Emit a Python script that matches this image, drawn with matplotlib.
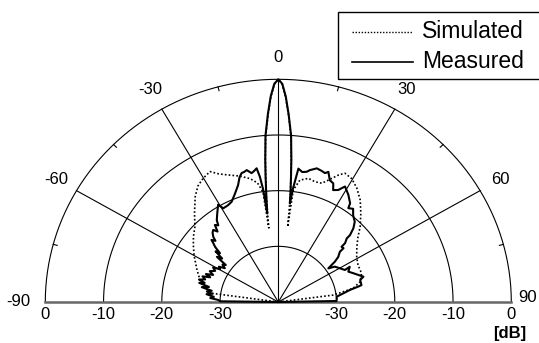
import numpy as np
import matplotlib
matplotlib.use("Agg")
import matplotlib.pyplot as plt
from matplotlib.patches import Rectangle
from matplotlib.lines import Line2D

plt.rcParams["font.family"] = ["Liberation Sans", "DejaVu Sans"]

# ---- data (angle in deg, 0 = broadside, level in dB) ----
sim_theta = [-90, -82.2, -77.5, -73.6, -67.6, -60, -55, -51.2, -46.6, -42, -37,
             -33.5, -30.1, -26.6, -24, -21.2, -16.5, -12.4, -9.5, -7.6, -7.0,
             -6.2, -5.5, -5.0, -4.2, -3.0, -2.0, -1.0, 0,
             1.0, 2.0, 3.0, 4.2, 5.0, 5.5, 6.2, 6.8, 7.3, 9.6, 13.1, 16.3, 19.3,
             21.4, 24.3, 26.3, 29.6, 33.4, 37.5, 41.7, 46.1, 50, 54.3, 59, 64.2,
             70.2, 75.5, 79.1, 80.6, 82.5, 90]
sim_db = [-40, -28.2, -26.9, -26.0, -24.9, -23.3, -22.2, -21.3, -20.3, -18.5, -16.3,
          -15.0, -14.3, -13.8, -14.8, -15.5, -16.4, -17.3, -18.3, -20.0, -26.6,
          -21.0, -17.4, -14.5, -10.2, -6.3, -3.2, -0.9, 0,
          -0.9, -3.3, -6.4, -10.2, -14.5, -17.4, -21.0, -26.4, -19.7, -17.8, -17.2, -17.5, -17.4,
          -16.5, -15.0, -14.2, -14.5, -15.5, -16.9, -18.7, -20.5, -22.2, -23.4, -24.3, -24.8,
          -24.8, -25.5, -26.9, -28.7, -30.5, -40]

meas_theta = [-90, -89.3, -88, -86.5, -85.2, -83.5, -82.5, -81.3, -80, -78.5, -77.2,
              -75.8, -74.8, -73.5, -72.1, -70.5, -69.2, -68, -66.5, -64.8, -62.7,
              -61, -59.5, -58.1, -56.5, -55, -53.6, -52.4, -51, -49.8, -48.8,
              -47.6, -46.5, -45.8, -44.5, -43.6, -42.2, -40.8, -39.5, -38.2, -36.8,
              -35.7, -33.5, -30.6, -29.3, -26.5, -24, -21, -18.2, -16.5, -15.2,
              -14, -12.9, -11.2, -10, -8.8, -8, -7.3, -6.8, -6.1, -5.5,
              -5.0, -4.2, -3.0, -2.0, -1.0, 0,
              1.0, 2.0, 3.0, 4.2, 5.0, 5.5, 6.0, 6.4, 7.0, 8.2,
              10, 11.8, 12.9, 15.4, 17.5, 19.1, 20.2, 22, 23.9, 25.1,
              27.1, 28.9, 32, 34.8, 35.5, 37.5, 39.5, 42.3, 44.2, 45.7,
              45.8, 47.3, 47.6, 49.2, 49.5, 51.8, 53.3, 54.4, 54.9, 56.8,
              60.3, 63.3, 62.7, 65.6, 68.2, 70.6, 72.7, 74.3, 78, 78.6,
              80, 82, 84.5, 89, 90]
meas_db = [-40, -30.0, -29.7, -28.3, -28.9, -27.6, -28.6, -27.6, -28.4, -26.6, -27.8,
           -26.0, -26.9, -25.8, -26.8, -26.2, -27.5, -26.6, -27.8, -27.0, -27.8,
           -27.2, -28.4, -28.0, -29.0, -28.3, -28.8, -26.7, -27.6, -25.9, -26.7,
           -25.3, -24.6, -24.0, -24.6, -23.8, -23.2, -22.9, -23.6, -22.4, -22.8,
           -21.9, -21.0, -19.7, -20.7, -20.6, -20.3, -19.2, -17.9, -16.6, -16.0,
           -15.9, -15.7, -16.4, -16.1, -15.7, -17.3, -19.7, -24.0, -20.5, -17.2,
           -14.3, -10.0, -6.1, -3.0, -0.8, 0,
           -0.8, -3.1, -6.2, -10.0, -14.3, -17.2, -19.8, -22.2, -19.6, -15.8,
           -16.3, -16.1, -15.7, -15.1, -15.3, -15.5, -15.1, -16.4, -16.7, -17.8,
           -17.4, -16.3, -17.3, -18.4, -19.3, -18.9, -19.8, -20.5, -21.5, -22.8,
           -23.6, -24.4, -25.3, -25.2, -26.1, -26.9, -27.9, -29.1, -29.5, -28.4,
           -27.8, -27.2, -26.2, -26.8, -26.1, -25.4, -24.7, -25.4, -25.4, -26.0,
           -27.5, -28.7, -29.9, -30.0, -40]

ring_db = [0, -10, -20, -30]
spoke_deg = [-60, -30, 0, 30, 60]
minor_deg = [-75, -45, -15, 15, 45, 75]
angle_labels = ["-90", "-60", "-30", "0", "30", "60", "90"]
angle_label_deg = [-90, -60, -30, 0, 30, 60, 90]

DB_MIN = -40.0


def to_xy(theta_deg, db):
    r = np.clip((np.asarray(db, float) - DB_MIN) / (0 - DB_MIN), 0, None)
    t = np.deg2rad(np.asarray(theta_deg, float))
    return r * np.sin(t), r * np.cos(t)


W, H = 539, 343
cx, cy = 278.3, 302.0      # centre in pixels
rx, ry = 233.0, 222.7      # outer ring radii in pixels

fig = plt.figure(figsize=(W / 100, H / 100), dpi=100)
ax = fig.add_axes([0, 0, 1, 1])
ax.set_xlim(-cx / rx, (W - cx) / rx)
ax.set_ylim(-(H - cy) / ry, cy / ry)
ax.axis("off")

# grid rings
tt = np.linspace(-90, 90, 361)
for d in ring_db:
    x, y = to_xy(tt, np.full_like(tt, d))
    ax.plot(x, y, color="black", lw=0.8, zorder=1)

# spokes
for a in spoke_deg:
    x, y = to_xy([a, a], [DB_MIN, 0])
    ax.plot(x, y, color="black", lw=0.8, zorder=1)

# minor ticks on outer ring
for a in minor_deg:
    x, y = to_xy([a, a], [-0.7, 0])
    ax.plot(x, y, color="black", lw=0.8, zorder=1)

# baseline (+-90 deg)
ax.plot([-1, 1], [0, 0], color="#666666", lw=1.8, zorder=1)

# curves
x, y = to_xy(sim_theta, sim_db)
ax.plot(x, y, color="black", lw=1.2, linestyle=(0, (1, 1.3)), zorder=3)
x, y = to_xy(meas_theta, meas_db)
ax.plot(x, y, color="black", lw=1.5, zorder=4)

# angle labels
for lab, a in zip(angle_labels, angle_label_deg):
    t = np.deg2rad(a)
    xx, yy = 1.1 * np.sin(t), 1.1 * np.cos(t)
    if a == -90:
        xx, yy = -1.117, 0.0
    if a == 90:
        xx, yy = 1.068, 0.022
    ax.text(xx, yy, lab, fontsize=12, ha="center", va="center")

# radial labels along baseline
for d in ring_db:
    r = (d - DB_MIN) / (0 - DB_MIN)
    for s in (-1, 1):
        ax.text(s * r, -0.058, str(d), fontsize=12, ha="center", va="center")
ax.text(0.995, -0.14, "[dB]", fontsize=12, ha="center", va="center",
        fontweight="bold")


# legend box (figure pixel coordinates)
def fx(p):
    return p / W


def fy(p):
    return 1 - p / H


fig.patches.append(Rectangle((fx(338.3), fy(79)), fx(545) - fx(338.3), fy(11.7) - fy(79),
                             transform=fig.transFigure, fill=False, lw=1.0,
                             edgecolor="black", clip_on=False))
fig.lines.append(Line2D([fx(351.7), fx(412)], [fy(32), fy(32)], transform=fig.transFigure,
                        color="black", lw=1.0, linestyle=(0, (1, 1.2))))
fig.lines.append(Line2D([fx(351.7), fx(413.3)], [fy(62), fy(62)], transform=fig.transFigure,
                        color="black", lw=1.2))
fig.text(fx(421.7), fy(31.5), "Simulated", fontsize=16.5, ha="left", va="center")
fig.text(fx(421.7), fy(61.5), "Measured", fontsize=16.5, ha="left", va="center")

fig.savefig("out.png", dpi=100)
